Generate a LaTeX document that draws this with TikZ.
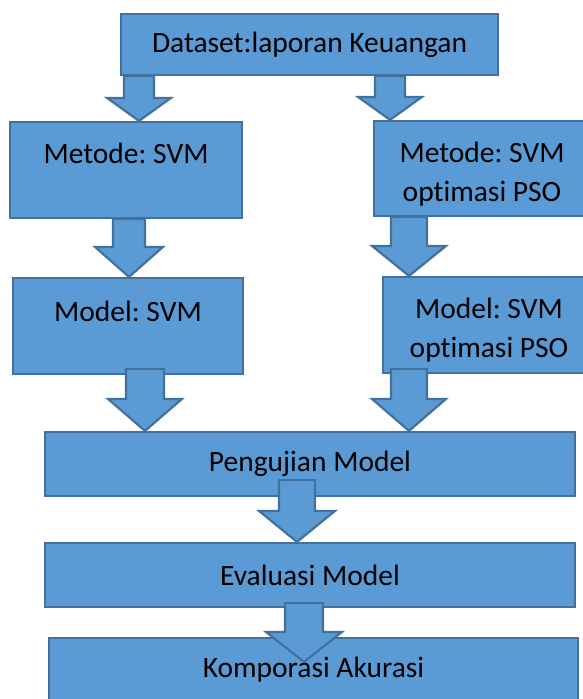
\documentclass[tikz,border=0pt]{standalone}
\usepackage{fontspec}
\setmainfont[Ligatures=NoCommon]{Carlito}
\usetikzlibrary{calc}
\frenchspacing

\definecolor{boxblue}{HTML}{5B9BD5}
\definecolor{edgeblue}{HTML}{41719C}

% block arrow: start, tip, shaft half width, head half width, head length
\newcommand{\flowarrow}[5]{%
  \coordinate (fs) at #1;
  \coordinate (ft) at #2;
  \draw[flowarr] ($(fs)+(-#3,0)$) -- ($(ft)+(-#3,#5)$) -- ($(ft)+(-#4,#5)$) -- (ft)
    -- ($(ft)+(#4,#5)$) -- ($(ft)+(#3,#5)$) -- ($(fs)+(#3,0)$) -- cycle;
}

\begin{document}
\begin{tikzpicture}[x=1pt,y=1pt,
  box/.style={draw=edgeblue, fill=boxblue, line width=2.2pt, align=center,
    inner sep=0pt, font=\fontsize{29.5}{39}\selectfont\frenchspacing},
  flowarr/.style={draw=edgeblue, fill=boxblue, line width=2.2pt, line join=miter}]
\useasboundingbox (0,0) rectangle (583,-699);
\clip (0,0) rectangle (583,-699);

% Draw boxes
\node[box, minimum width=377, minimum height=61] (data) at (309.5,-44.5) {Dataset:laporan Keuangan};
\node[box, minimum width=232, minimum height=96] (metL) at (126,-170) {Metode: SVM\\[-6pt]\mbox{}};
\node[box, minimum width=216, minimum height=95] (metR) at (482,-168.5) {\rule{0pt}{31pt}Metode: SVM\\optimasi PSO};
\node[box, minimum width=230, minimum height=96] (modL) at (128,-326) {Model: SVM\\[-10pt]\mbox{}};
\node[box, minimum width=212, minimum height=96] (modR) at (489,-325) {\rule{0pt}{31pt}Model: SVM\\optimasi PSO};
\node[box, minimum width=530, minimum height=64] (peng) at (310,-464) {Pengujian Model};
\node[box, minimum width=530, minimum height=64] (eval) at (310,-575) {Evaluasi Model};
\node[box, minimum width=529, minimum height=64] (komp) at (313.5,-670) {Komporasi Akurasi};

% Draw arrows
\flowarrow{(139,0 |- data.south)}{(139,0 |- metL.north)}{15}{32}{23}
\flowarrow{(390,0 |- data.south)}{(390,0 |- metR.north)}{15}{32}{23}
\flowarrow{(129,0 |- metL.south)}{(129,0 |- modL.north)}{16}{34}{30}
\flowarrow{(409,0 |- metR.south)}{(409,0 |- modR.north)}{18}{37}{30}
\flowarrow{($(145,0 |- modL.south)+(0,6)$)}{(145,0 |- peng.north)}{19}{37}{32}
\flowarrow{($(409,0 |- modR.south)+(0,5)$)}{(409,0 |- peng.north)}{18}{37}{32}
\flowarrow{($(297,0 |- peng.south)+(0,17)$)}{(297,0 |- eval.north)}{18}{38}{31}
\flowarrow{($(304,0 |- eval.south)+(0,5)$)}{($(304,0 |- komp.north)+(0,-25)$)}{19}{38}{30}

\end{tikzpicture}
\end{document}
